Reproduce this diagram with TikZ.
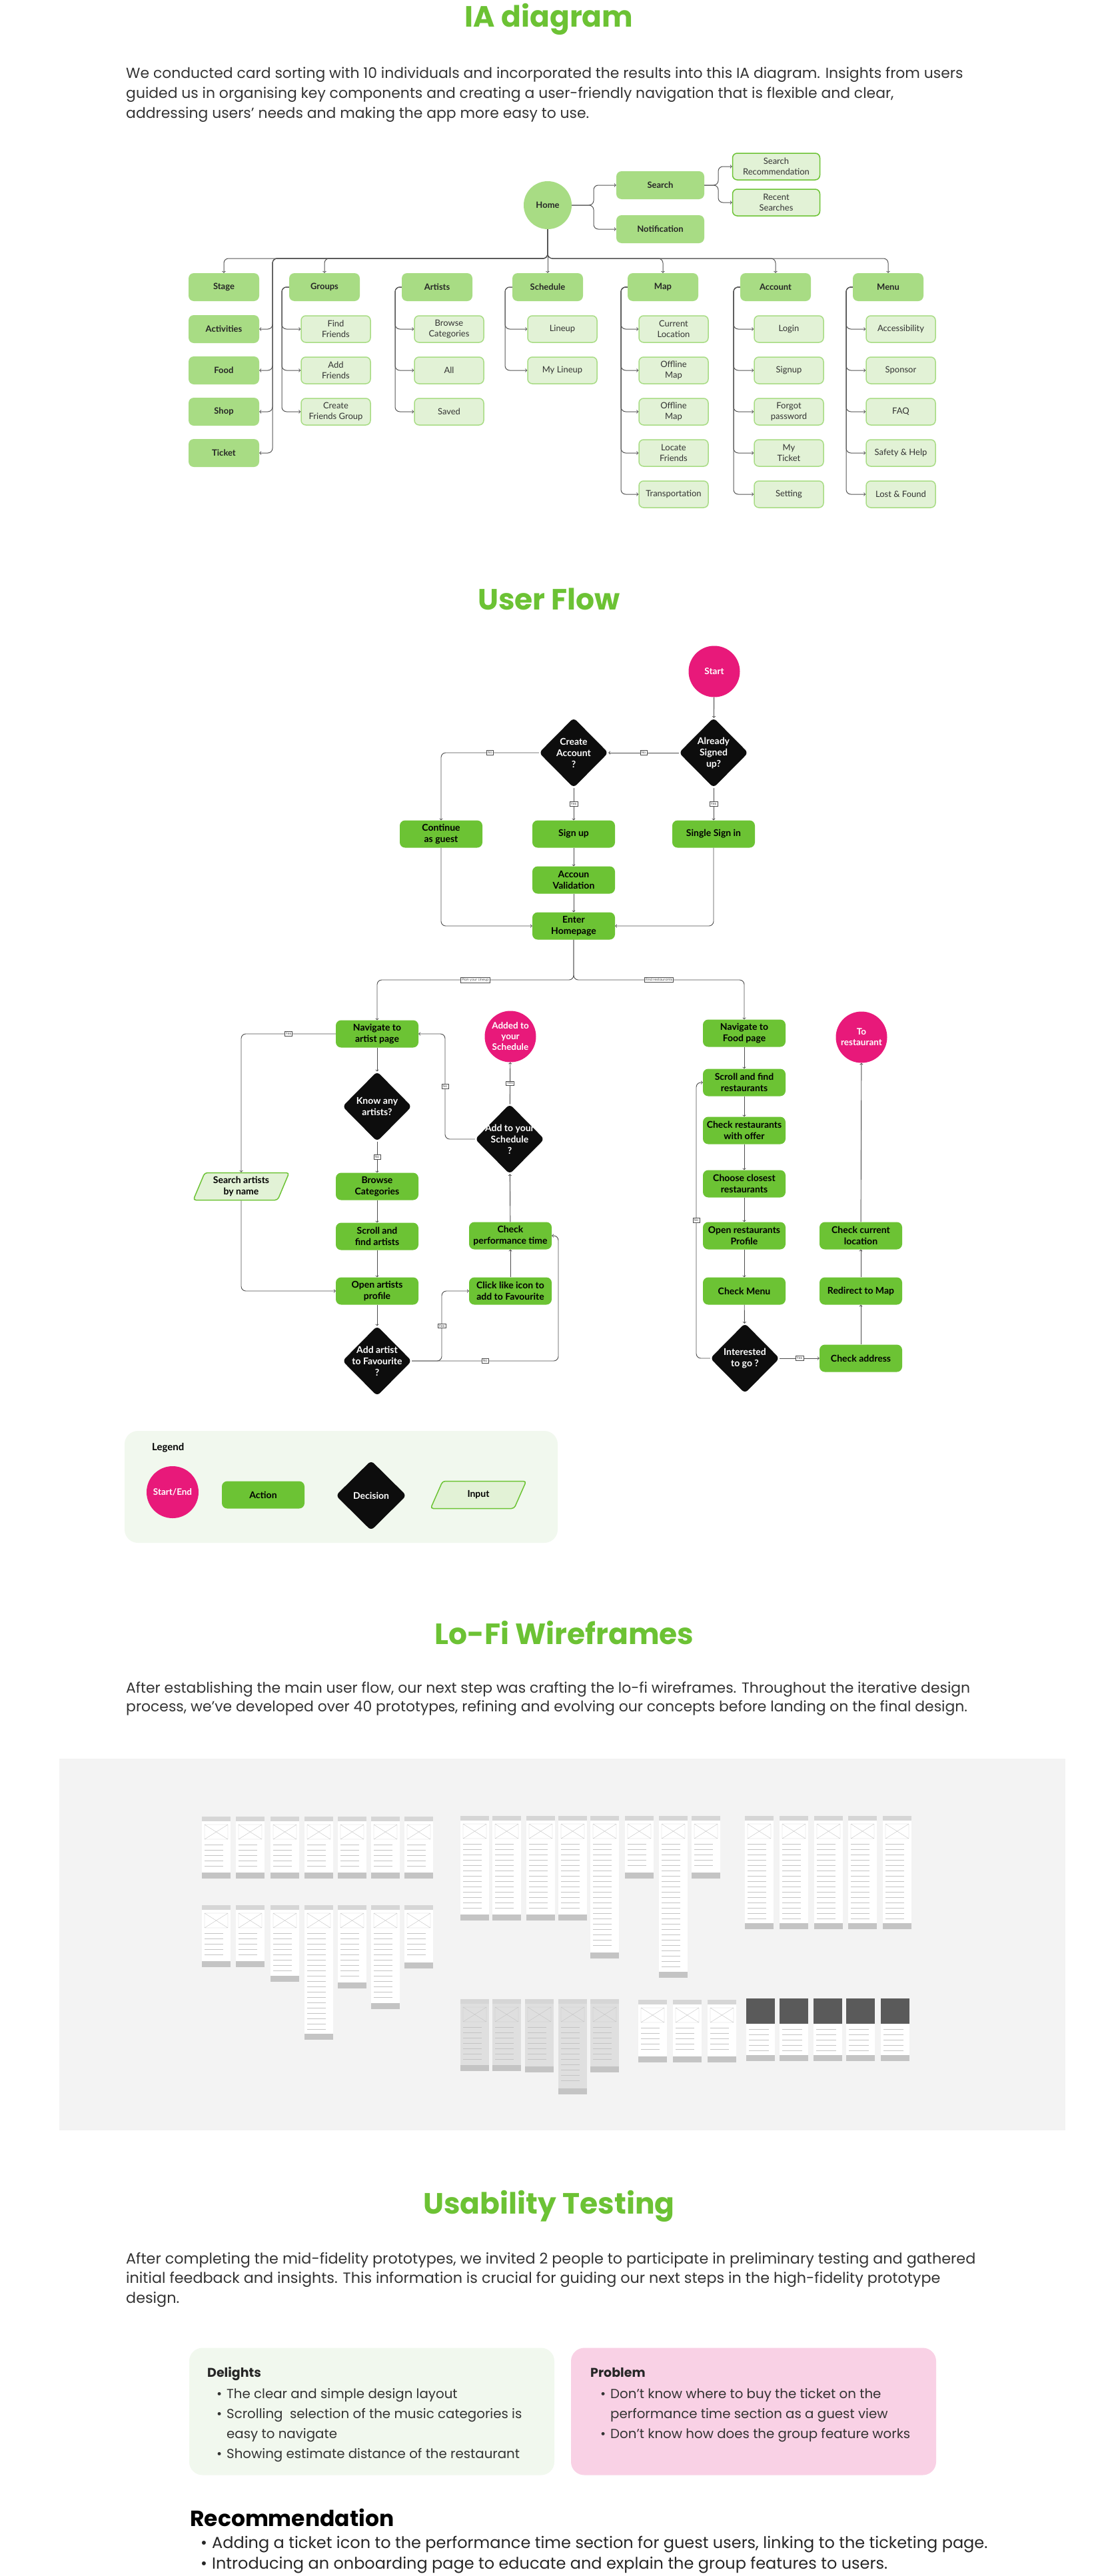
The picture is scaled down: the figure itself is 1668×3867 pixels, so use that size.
\documentclass[tikz,border=0pt]{standalone}
\usepackage{fontspec}
\setmainfont{Poppins}
\newfontfamily\lato{Lato}
\usetikzlibrary{shapes.geometric}
\definecolor{hdgreen}{HTML}{6CC234}
\definecolor{topbox}{HTML}{A8DC84}
\definecolor{subfill}{HTML}{E2F2D6}
\definecolor{actgreen}{HTML}{6CC334}
\definecolor{endpink}{HTML}{E8197A}
\definecolor{paleback}{HTML}{F1F8EE}
\definecolor{pinkback}{HTML}{F9D1E5}
\definecolor{panelgray}{HTML}{F3F3F3}
\definecolor{wiregray}{HTML}{C4C4C4}
\definecolor{wiredark}{HTML}{5A5A5A}
\definecolor{bodytext}{HTML}{333333}
\definecolor{linkgray}{HTML}{555555}
\tikzset{
  heading/.style={font=\fontsize{44}{50}\selectfont\bfseries, text=hdgreen, anchor=base, inner sep=0pt},
  para/.style={font=\fontsize{21.9}{30}\selectfont, text=bodytext, anchor=base west, inner sep=0pt},
  listtext/.style={font=\fontsize{19.8}{30}\selectfont, text=bodytext, anchor=base west, inner sep=0pt},
  topnode/.style={rectangle, rounded corners=8pt, fill=topbox, minimum width=106pt, minimum height=42pt, inner sep=0pt, align=center, font=\lato\fontsize{13}{16}\selectfont\bfseries, text=black!85},
  subnode/.style={rectangle, rounded corners=7pt, fill=subfill, draw=topbox, line width=1.5pt, minimum width=104pt, minimum height=40pt, inner sep=0pt, align=center, font=\lato\fontsize{13}{16}\selectfont, text=black!80},
  link/.style={draw=linkgray, line width=1pt, rounded corners=7pt},
  flow/.style={draw=black!70, line width=0.9pt, rounded corners=7pt},
  action/.style={rectangle, rounded corners=8pt, fill=actgreen, minimum width=124pt, minimum height=41pt, inner sep=0pt, align=center, font=\lato\fontsize{14}{17}\selectfont\bfseries, text=black},
  decision/.style={diamond, fill=black!95, minimum width=104pt, minimum height=105pt, inner sep=0pt, rounded corners=6pt, label={[dectext]center:#1}},
  dectext/.style={align=center, text=white, font=\lato\fontsize{14}{17}\selectfont\bfseries},
  terminal/.style={circle, fill=endpink, minimum size=77pt, inner sep=0pt, align=center, text=white, font=\lato\fontsize{13.5}{16}\selectfont\bfseries},
  inputbox/.style={trapezium, trapezium left angle=66, trapezium right angle=114, trapezium stretches=true, fill=subfill, draw=actgreen, line width=1.5pt, rounded corners=4pt, minimum width=144pt, minimum height=41pt, inner sep=0pt, align=center, font=\lato\fontsize{14}{17}\selectfont\bfseries, text=black},
  tag/.style={sharp corners, fill=white, draw=black!70, line width=0.6pt, inner sep=1.5pt, font=\fontsize{5}{6}\selectfont, text=black!70},
}
\newcommand{\wfscreen}[4][white]{%
  \fill[#1] (#2,#3) rectangle ++(43,#4);
  \fill[wiregray!70] (#2,#3) rectangle ++(43,7);
  \draw[wiregray, line width=0.4pt] (#2+4,#3+12) rectangle ++(35,22) -- ++(-35,-22) (#2+4,#3+34) -- ++(35,-22);
  \pgfmathtruncatemacro{\wfnum}{(#4-58)/8}
  \foreach \k in {0,...,\wfnum} \draw[wiregray, line width=0.8pt] (#2+4,#3+42+8*\k) -- ++(28,0);
  \fill[wiregray] (#2,#3+#4-9) rectangle ++(43,9);
}
\newcommand{\wfdark}[3]{%
  \fill[white] (#1,#2) rectangle ++(43,#3);
  \fill[wiredark] (#1,#2) rectangle ++(43,38);
  \foreach \k in {0,...,4} \draw[wiregray, line width=0.8pt] (#1+4,#2+46+8*\k) -- ++(30,0);
  \fill[wiregray] (#1,#2+#3-9) rectangle ++(43,9);
}
\begin{document}
\begin{tikzpicture}[x=1pt,y=-1pt]
\useasboundingbox (0,0) rectangle (1668,3867);
\fill[white] (0,0) rectangle (1668,3867);

% IA diagram
\node (iatitle) [heading] at (824,41) {IA diagram};
\foreach \t [count=\i from 0] in {{We conducted card sorting with 10 individuals and incorporated the results into this IA diagram. Insights from users},{guided us in organising key components and creating a user-friendly navigation that is flexible and clear,},{addressing users' needs and making the app more easy to use.}}
  \node (iapara\i) [para] at (189,118+29.7*\i) {\t};

\node (home) at (822,308) [circle, fill=topbox, minimum size=72pt, inner sep=0pt, font=\lato\fontsize{13}{16}\selectfont\bfseries, text=black!85] {Home};
\node (search) at (991,278) [topnode, minimum width=132pt] {Search};
\node (notif) at (991,344) [topnode, minimum width=132pt] {Notification};
\node (srchrec) at (1165,250) [subnode, draw=actgreen, minimum width=131pt] {Search\\Recommendation};
\node (recent) at (1165,304) [subnode, draw=actgreen, minimum width=131pt] {Recent\\Searches};
\coordinate (bus) at (822,388);

\node (stage) at (336,431) [topnode] {Stage};
\node (activ) at (336,494) [topnode] {Activities};
\node (food) at (336,556) [topnode] {Food};
\node (shop) at (336,618) [topnode] {Shop};
\node (ticket) at (336,680) [topnode] {Ticket};
\node (groups) at (487,431) [topnode] {Groups};
\node (findfr) at (504,494) [subnode] {Find\\Friends};
\node (addfr) at (504,556) [subnode] {Add\\Friends};
\node (creategrp) at (504,618) [subnode] {Create\\Friends Group};
\node (artists) at (656,431) [topnode] {Artists};
\node (browse) at (674,494) [subnode] {Browse\\Categories};
\node (allart) at (674,556) [subnode] {All};
\node (saved) at (674,618) [subnode] {Saved};
\node (sched) at (822,431) [topnode] {Schedule};
\node (lineup) at (844,494) [subnode] {Lineup};
\node (mylineup) at (844,556) [subnode] {My Lineup};
\node (map) at (995,431) [topnode] {Map};
\node (curloc) at (1011,494) [subnode] {Current\\Location};
\node (offmapa) at (1011,556) [subnode] {Offline\\Map};
\node (offmapb) at (1011,618) [subnode] {Offline\\Map};
\node (locfr) at (1011,680) [subnode] {Locate\\Friends};
\node (transp) at (1011,742) [subnode] {Transportation};
\node (account) at (1164,431) [topnode] {Account};
\node (login) at (1184,494) [subnode] {Login};
\node (signupia) at (1184,556) [subnode] {Signup};
\node (forgot) at (1184,618) [subnode] {Forgot\\password};
\node (myticket) at (1184,680) [subnode] {My\\Ticket};
\node (setting) at (1184,742) [subnode] {Setting};
\node (menu) at (1333,431) [topnode] {Menu};
\node (access) at (1352,494) [subnode] {Accessibility};
\node (sponsor) at (1352,556) [subnode] {Sponsor};
\node (faq) at (1352,618) [subnode] {FAQ};
\node (safety) at (1352,680) [subnode] {Safety \& Help};
\node (lostfound) at (1352,742) [subnode] {Lost \& Found};

\draw[link,->] (home.east) -- (891,308) |- (search.west);
\draw[link,->] (home.east) -- (891,308) |- (notif.west);
\draw[link,->] (search.east) -- (1078,278) |- (srchrec.west);
\draw[link,->] (search.east) -- (1078,278) |- (recent.west);
\draw[link,->] (home.south) -- (sched.north);
\foreach \c in {stage,groups,map,account,menu}
  \draw[link,->] (home.south) |- (\c.north |- bus) -- (\c.north);
\foreach \c in {activ,food,shop,ticket}
  \draw[link,->] (home.south) |- (409,388) |- (\c.east);
\foreach \c in {findfr,addfr,creategrp} \draw[link,->] (groups.west) -- (423,431) |- (\c.west);
\foreach \c in {browse,allart,saved} \draw[link,->] (artists.west) -- (593,431) |- (\c.west);
\foreach \c in {lineup,mylineup} \draw[link,->] (sched.west) -- (758,431) |- (\c.west);
\foreach \c in {curloc,offmapa,offmapb,locfr,transp} \draw[link,->] (map.west) -- (932,431) |- (\c.west);
\foreach \c in {login,signupia,forgot,myticket,setting} \draw[link,->] (account.west) -- (1101,431) |- (\c.west);
\foreach \c in {access,sponsor,faq,safety,lostfound} \draw[link,->] (menu.west) -- (1270,431) |- (\c.west);

% User flow
\node (flowtitle) [heading] at (824,915) {User Flow};
\node (start) at (1072,1008) [terminal] {Start};
\node (signedq) at (1071,1130) [decision={Already\\Signed\\up?}] {};
\node (createq) at (861,1130) [decision={Create\\Account\\?}] {};
\node (guest) at (662,1252) [action] {Continue\\as guest};
\node (signup) at (861,1252) [action] {Sign up};
\node (single) at (1071,1252) [action] {Single Sign in};
\node (valid) at (861,1321) [action] {Accoun\\Validation};
\node (enter) at (861,1390) [action] {Enter\\Homepage};
\coordinate (split) at (861,1471);

\node (navart) at (566,1552) [action] {Navigate to\\artist page};
\node (knowq) at (566,1661) [decision={Know any\\artists?}] {};
\node (catbrowse) at (566,1781) [action] {Browse\\Categories};
\node (scrollart) at (566,1856) [action] {Scroll and\\find artists};
\node (openprof) at (566,1938) [action] {Open artists\\profile};
\node (favq) at (566,2043) [decision={Add artist\\to Favourite\\?}] {};
\node (byname) at (362,1781) [inputbox] {Search artists\\by name};
\node (addedc) at (766,1556) [terminal] {Added to\\your\\Schedule};
\node (addq) at (765,1710) [decision={Add to your\\Schedule\\?}] {};
\node (checkperf) at (766,1855) [action] {Check\\performance time};
\node (likeicon) at (766,1938) [action] {Click like icon to\\add to Favourite};

\node (navfood) at (1117,1551) [action] {Navigate to\\Food page};
\node (scrollrest) at (1117,1625) [action] {Scroll and find\\restaurants};
\node (offer) at (1117,1697) [action] {Check restaurants\\with offer};
\node (closest) at (1117,1777) [action] {Choose closest\\restaurants};
\node (openrest) at (1117,1855) [action] {Open restaurants\\Profile};
\node (chkmenu) at (1117,1938) [action] {Check Menu};
\node (intq) at (1118,2039) [decision={Interested\\to go ?}] {};
\node (address) at (1292,2039) [action] {Check address};
\node (redirect) at (1292,1938) [action] {Redirect to Map};
\node (curloc2) at (1292,1855) [action] {Check current\\location};
\node (torest) at (1293,1557) [terminal] {To\\restaurant};

\draw[flow,->] (start) -- (signedq);
\draw[flow,->] (signedq) -- node[tag]{No} (createq);
\draw[flow,->] (createq.west) -| node[tag,pos=0.25]{No} (guest.north);
\draw[flow,->] (createq) -- node[tag]{Yes} (signup);
\draw[flow,->] (signedq) -- node[tag]{Yes} (single);
\draw[flow,->] (signup) -- (valid);
\draw[flow,->] (valid) -- (enter);
\draw[flow,->] (guest.south) |- (enter.west);
\draw[flow,->] (single.south) |- (enter.east);
\draw[flow,->] (enter.south) -- (split) -| node[tag,pos=0.25]{Plan your Lineup} (navart.north);
\draw[flow,->] (enter.south) -- (split) -| node[tag,pos=0.25]{Find restaurants} (navfood.north);

\draw[flow,->] (navart.west) -| node[tag,pos=0.25]{Yes} (byname.north);
\draw[flow,->] (navart) -- (knowq);
\draw[flow,->] (knowq) -- node[tag]{No} (catbrowse);
\draw[flow,->] (catbrowse) -- (scrollart);
\draw[flow,->] (scrollart) -- (openprof);
\draw[flow,->] (openprof) -- (favq);
\draw[flow,->] (byname.south) |- (openprof.west);
\draw[flow,->] (favq.east) -- (663,2043) |- node[tag,pos=0.25]{Yes} (likeicon.west);
\draw[flow,->] (favq.east) -- node[tag]{No} (838,2043) |- (checkperf.east);
\draw[flow,->] (likeicon) -- (checkperf);
\draw[flow,->] (checkperf) -- (addq);
\draw[flow,->] (addq) -- node[tag]{Yes} (addedc);
\draw[flow,->] (addq.west) -- (668,1710) |- node[tag,pos=0.25]{No} (navart.east);

\draw[flow,->] (navfood) -- (scrollrest);
\draw[flow,->] (scrollrest) -- (offer);
\draw[flow,->] (offer) -- (closest);
\draw[flow,->] (closest) -- (openrest);
\draw[flow,->] (openrest) -- (chkmenu);
\draw[flow,->] (chkmenu) -- (intq);
\draw[flow,->] (intq.west) -- (1045,2039) |- node[tag,pos=0.25]{No} (scrollrest.west);
\draw[flow,->] (intq) -- node[tag]{Yes} (address);
\draw[flow,->] (address) -- (redirect);
\draw[flow,->] (redirect) -- (curloc2);
\draw[flow,->] (curloc2) -- (torest);

% legend
\node (legendbox) at (512,2232) [rectangle, rounded corners=20pt, fill=paleback, minimum width=650pt, minimum height=168pt] {};
\node (legendttl) at (228,2173) [anchor=west, inner sep=0pt, font=\lato\fontsize{15}{18}\selectfont\bfseries] {Legend};
\node (lgend) at (259,2240) [terminal, minimum size=78pt] {Start/End};
\node (lgact) at (395,2244) [action] {Action};
\node (lgdec) at (557,2245) [decision={Decision}, minimum width=106pt] {};
\node (lginput) at (718,2244) [inputbox] {Input};

% Lo-fi wireframes
\node (lofititle) [heading] at (847,2468) {Lo-Fi Wireframes};
\foreach \t [count=\i from 0] in {{After establishing the main user flow, our next step was crafting the lo-fi wireframes. Throughout the iterative design},{process, we've developed over 40 prototypes, refining and evolving our concepts before landing on the final design.}}
  \node (lofipara\i) [para] at (189,2541+28.5*\i) {\t};
\fill[panelgray] (89,2640) rectangle (1599,3198);
\foreach \x in {303,354,406,457,507,557,607} \wfscreen{\x}{2727}{93};
\foreach \x/\h in {303/93,354/93,406/115,457/202,507/125,557/156,607/95} \wfscreen{\x}{2860}{\h};
\foreach \x/\h in {691/157,739/157,790/157,838/157,886/214,938/94,989/243,1038/94} \wfscreen{\x}{2726}{\h};
\foreach \x in {1118,1170,1222,1273,1325} \wfscreen{\x}{2726}{170};
\foreach \x/\h in {691/108,739/108,788/110,838/143,886/110} \wfscreen[wiregray!55]{\x}{3001}{\h};
\foreach \x in {958,1010,1062} \wfscreen[white]{\x}{3002}{94};
\foreach \x in {1120,1170,1221,1270,1322} \wfdark{\x}{3000}{94};

% Usability testing
\node (ustitle) [heading] at (824,3323) {Usability Testing};
\foreach \t [count=\i from 0] in {{After completing the mid-fidelity prototypes, we invited 2 people to participate in preliminary testing and gathered},{initial feedback and insights. This information is crucial for guiding our next steps in the high-fidelity prototype},{design.}}
  \node (uspara\i) [para, font=\fontsize{22.3}{30}\selectfont] at (189,3398+29.7*\i) {\t};
\node (delights) at (558,3620) [rectangle, rounded corners=20pt, fill=paleback, minimum width=548pt, minimum height=191pt] {};
\node (problem) at (1131,3620) [rectangle, rounded corners=20pt, fill=pinkback, minimum width=548pt, minimum height=191pt] {};
\node (delhd) at (311,3568) [anchor=base west, inner sep=0pt, font=\fontsize{19}{22}\selectfont\bfseries, text=black!85] {Delights};
\node (probhd) at (886,3568) [anchor=base west, inner sep=0pt, font=\fontsize{19}{22}\selectfont\bfseries, text=black!85] {Problem};
\foreach \b/\t [count=\i from 0] in {\textbullet/{The clear and simple design layout},\textbullet/{Scrolling\ \ selection of the music categories is},/{easy to navigate},\textbullet/{Showing estimate distance of the restaurant}}
  \node (dellist\i) [listtext] at (325,3600+30*\i) {\makebox[15pt][l]{\b}\t};
\foreach \b/\t [count=\i from 0] in {\textbullet/{Don’t know where to buy the ticket on the},/{performance time section as a guest view},\textbullet/{Don’t know how does the group feature works}}
  \node (problist\i) [listtext] at (901,3600+30*\i) {\makebox[15pt][l]{\b}\t};
\node (rechd) at (285,3792) [anchor=base west, inner sep=0pt, font=\fontsize{33}{36}\selectfont\bfseries, text=black] {Recommendation};
\foreach \t [count=\i from 0] in {{Adding a ticket icon to the performance time section for guest users, linking to the ticketing page.},{Introducing an onboarding page to educate and explain the group features to users.}}
  \node (reclist\i) [para, font=\fontsize{24}{30}\selectfont, text=black!85] at (301,3825+31.7*\i) {\makebox[17pt][l]{\textbullet}\t};
\end{tikzpicture}
\end{document}
